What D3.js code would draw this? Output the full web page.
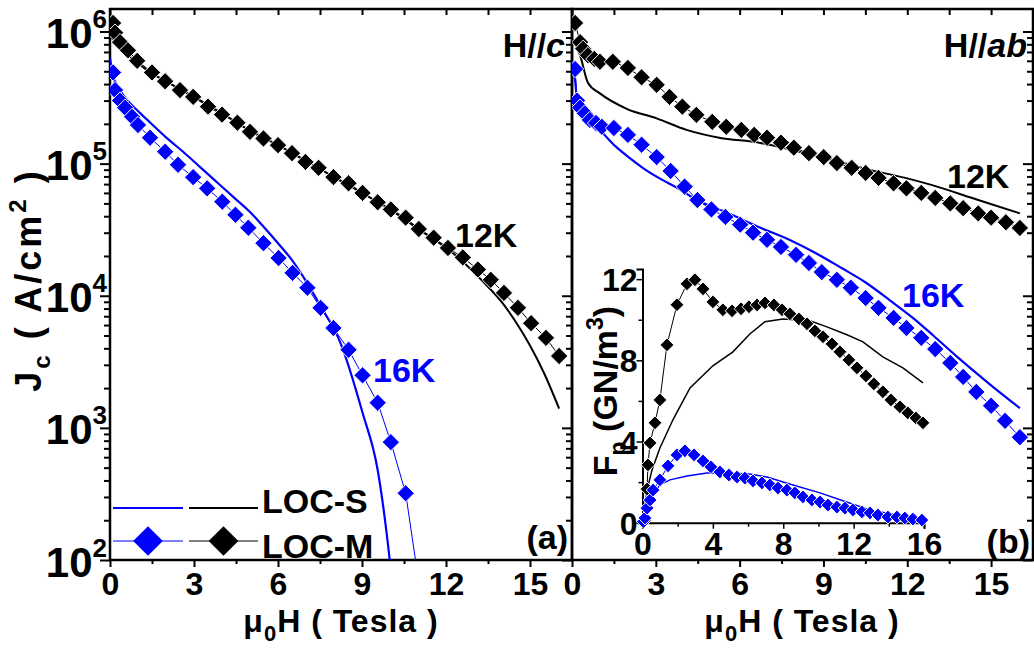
<!DOCTYPE html>
<html>
<head>
<meta charset="utf-8">
<script src="https://cdn.jsdelivr.net/npm/d3@7"></script>
<style>
  body { margin: 0; background: #fff; }
  text { font-family: "Liberation Sans", Arial, sans-serif; font-weight: bold; fill: #000; }
</style>
</head>
<body>
<svg id="chart" width="1034" height="648"></svg>
<script>
// ---- tick values ----
const hMajor = [0, 3, 6, 9, 12, 15];
const hMinor = [1.5, 4.5, 7.5, 10.5, 13.5];
const jcExponents = [2, 3, 4, 5, 6];
const fpMajor = [0, 4, 8, 12];
const fpMinor = [2, 6, 10];
const insetHMajor = [0, 4, 8, 12, 16];
const insetHMinor = [2, 6, 10, 14];

// ---- (a) H//c ----
const cM12H = [0.11, 0.18, 0.36, 0.64, 0.97, 1.5, 1.97, 2.5, 2.97, 3.5, 4.0, 4.55, 5.0, 5.48, 6.0, 6.5, 6.98, 7.45, 7.98, 8.52, 9.02, 9.56, 10.03, 10.56, 11.03, 11.56, 12.07, 12.6, 13.14, 13.6, 14.07, 14.57, 15.04, 15.57, 16.04];
const cM12Jc = [1.16e6, 9.8e5, 8.3e5, 7.2e5, 6.0e5, 4.9e5, 4.2e5, 3.6e5, 3.2e5, 2.7e5, 2.35e5, 2.04e5, 1.74e5, 1.55e5, 1.38e5, 1.2e5, 1.03e5, 9.3e4, 7.9e4, 7.1e4, 6.0e4, 5.1e4, 4.5e4, 3.9e4, 3.2e4, 2.75e4, 2.3e4, 1.95e4, 1.58e4, 1.32e4, 1.05e4, 8.1e3, 6.2e3, 4.8e3, 3.5e3];
const cS12H = [0, 0.2, 0.5, 1, 1.5, 2, 3, 4, 5, 6, 7, 8, 9, 10, 11, 12, 12.5, 13, 13.5, 14, 14.5, 15, 15.5, 16.04];
const cS12Jc = [9.3e5, 8.3e5, 7.1e5, 5.75e5, 4.8e5, 4.2e5, 3.2e5, 2.4e5, 1.78e5, 1.38e5, 1.05e5, 7.9e4, 6.0e4, 4.5e4, 3.2e4, 2.3e4, 1.9e4, 1.5e4, 1.17e4, 8.9e3, 6.3e3, 4.2e3, 2.6e3, 1.4e3];
const cM16H = [0.11, 0.18, 0.36, 0.54, 0.79, 1.0, 1.43, 1.97, 2.43, 2.97, 3.47, 4.01, 4.48, 4.94, 5.48, 6.02, 6.52, 7.05, 7.52, 7.98, 8.52, 9.02, 9.56, 10.03, 10.56, 11.05];
const cM16Jc = [4.9e5, 3.6e5, 3.0e5, 2.65e5, 2.26e5, 1.96e5, 1.57e5, 1.23e5, 9.8e4, 7.9e4, 6.5e4, 5.15e4, 4.1e4, 3.27e4, 2.5e4, 1.93e4, 1.49e4, 1.15e4, 8.1e3, 5.7e3, 3.9e3, 2.5e3, 1.55e3, 780, 320, 63];
const cS16H = [0, 0.1, 0.36, 1.0, 1.43, 2.0, 2.61, 3.2, 3.83, 4.4, 5.0, 5.5, 6.0, 6.5, 7.0, 7.5, 8.23, 9.02, 9.56, 9.99, 10.1];
const cS16Jc = [6.3e5, 4.7e5, 3.6e5, 2.5e5, 2.05e5, 1.58e5, 1.23e5, 9.5e4, 7.2e4, 5.6e4, 4.3e4, 3.3e4, 2.5e4, 1.86e4, 1.29e4, 8.5e3, 4.4e3, 1.3e3, 480, 100, 60];

// ---- (b) H//ab ----
const abM12H = [0.11, 0.29, 0.4, 0.57, 0.8, 1.0, 1.46, 2.0, 2.49, 3.03, 3.49, 3.95, 4.45, 5.02, 5.52, 6.06, 6.52, 6.98, 7.48, 7.94, 8.48, 9.01, 9.48, 10.01, 10.51, 10.97, 11.51, 11.97, 12.5, 13.0, 13.54, 14.0, 14.54, 15.0, 15.53, 16.03];
const abM12Jc = [1.16e6, 8.3e5, 7.4e5, 6.6e5, 6.2e5, 5.9e5, 5.9e5, 5.3e5, 4.5e5, 3.95e5, 3.2e5, 2.7e5, 2.34e5, 2.07e5, 1.9e5, 1.8e5, 1.65e5, 1.57e5, 1.44e5, 1.32e5, 1.2e5, 1.12e5, 1.01e5, 9.3e4, 8.5e4, 7.8e4, 7.1e4, 6.5e4, 6.0e4, 5.5e4, 5.0e4, 4.6e4, 4.2e4, 3.9e4, 3.6e4, 3.26e4];
const abS12H = [0, 0.29, 0.57, 1.0, 1.96, 3.03, 4.1, 5.27, 6.7, 7.87, 9.3, 10.62, 11.93, 12.86, 14.54, 16.03];
const abS12Jc = [8.9e5, 6.6e5, 4.1e5, 3.4e5, 2.6e5, 2.2e5, 1.8e5, 1.57e5, 1.44e5, 1.27e5, 1.07e5, 9.0e4, 7.8e4, 6.9e4, 5.3e4, 4.2e4];
const abM16H = [0.11, 0.18, 0.29, 0.46, 0.64, 0.86, 1.07, 1.5, 2.0, 2.49, 3.03, 3.53, 4.03, 4.49, 4.99, 5.49, 6.02, 6.48, 6.98, 7.48, 8.02, 8.48, 8.94, 9.48, 9.98, 10.51, 10.97, 11.51, 11.97, 12.5, 13.0, 13.54, 14.0, 14.47, 15.0, 15.5, 16.03];
const abM16Jc = [5.2e5, 3.0e5, 2.65e5, 2.4e5, 2.14e5, 2.03e5, 1.9e5, 1.86e5, 1.65e5, 1.39e5, 1.12e5, 8.8e4, 6.7e4, 5.3e4, 4.5e4, 3.95e4, 3.45e4, 3.0e4, 2.65e4, 2.34e4, 2.04e4, 1.77e4, 1.51e4, 1.32e4, 1.15e4, 9.6e3, 8.1e3, 6.8e3, 5.7e3, 4.8e3, 3.95e3, 3.1e3, 2.43e3, 1.87e3, 1.47e3, 1.13e3, 850];
const abS16H = [0, 0.11, 0.18, 0.29, 0.64, 1.0, 1.56, 2.07, 2.53, 3.2, 3.74, 4.5, 5.5, 6.7, 7.87, 8.73, 9.65, 10.51, 11.39, 12.2, 12.93, 13.82, 15.0, 16.03];
const abS16Jc = [5.9e5, 4.3e5, 3.0e5, 2.35e5, 2.04e5, 1.78e5, 1.35e5, 1.1e5, 9.3e4, 7.6e4, 6.6e4, 5.25e4, 4.3e4, 3.3e4, 2.6e4, 2.1e4, 1.62e4, 1.26e4, 9.2e3, 6.8e3, 5.0e3, 3.4e3, 2.1e3, 1.41e3];

// ---- inset Fp (GN/m3), H//ab ----
const fpM12H = [0.1, 0.26, 0.31, 0.43, 0.71, 0.99, 1.39, 1.96, 2.53, 2.98, 3.44, 4.0, 4.57, 5.09, 5.6, 6.05, 6.51, 6.96, 7.47, 7.93, 8.38, 8.89, 9.35, 9.8, 10.26, 10.77, 11.22, 11.73, 12.19, 12.7, 13.15, 13.66, 14.12, 14.63, 15.08, 15.54, 15.94];
const fpM12 = [0.1, 1.66, 2.85, 3.93, 4.92, 6.05, 8.76, 10.74, 11.77, 11.97, 11.52, 10.88, 10.49, 10.44, 10.54, 10.64, 10.73, 10.83, 10.73, 10.49, 10.29, 10.04, 9.8, 9.45, 9.16, 8.81, 8.42, 8.02, 7.63, 7.23, 6.84, 6.45, 6.05, 5.71, 5.41, 5.16, 4.92];
const fpS12H = [0, 0.26, 0.54, 0.99, 1.73, 2.7, 4.0, 5.14, 6.1, 6.96, 7.98, 9.52, 10.48, 11.62, 12.53, 13.66, 14.8, 15.94];
const fpS12 = [0, 1.61, 2.6, 3.68, 5.07, 6.64, 7.73, 8.42, 9.3, 9.9, 10.04, 9.95, 9.65, 9.26, 8.91, 8.17, 7.63, 6.89];
const fpM16H = [0.05, 0.14, 0.26, 0.43, 0.6, 0.99, 1.45, 1.96, 2.41, 2.93, 3.44, 3.89, 4.4, 4.91, 5.37, 5.82, 6.28, 6.79, 7.24, 7.7, 8.21, 8.66, 9.12, 9.63, 10.09, 10.54, 11.05, 11.51, 11.96, 12.47, 12.93, 13.38, 13.95, 14.46, 14.91, 15.37, 15.88];
const fpM16 = [0.05, 0.23, 0.72, 1.12, 1.61, 2.11, 2.8, 3.34, 3.54, 3.34, 3.04, 2.75, 2.5, 2.35, 2.25, 2.2, 2.06, 1.96, 1.86, 1.71, 1.61, 1.47, 1.27, 1.12, 1.02, 0.87, 0.77, 0.72, 0.63, 0.53, 0.48, 0.38, 0.28, 0.28, 0.23, 0.18, 0.13];
const fpS16H = [0, 0.14, 0.31, 0.6, 0.99, 1.56, 2.53, 3.66, 4.97, 6.1, 7.07, 8.55, 10.09, 11.39, 12.93, 14.46, 15.94];
const fpS16 = [0, 0.53, 0.97, 1.42, 1.86, 2.11, 2.3, 2.45, 2.45, 2.4, 2.25, 1.86, 1.47, 1.08, 0.63, 0.38, 0.23];

const BLUE = "#0000ff";
const svg = d3.select("#chart");
const plotTop = 9, plotBottom = 560;

const y = d3.scaleLog().domain([100, 1.48e6]).range([plotBottom, plotTop]);
const xA = d3.scaleLinear().domain([0, 16.5]).range([110, 572]);
const xB = d3.scaleLinear().domain([0, 16.5]).range([572, 1033]);
const xIn = d3.scaleLinear().domain([0, 16]).range([642.5, 924]);
const yIn = d3.scaleLinear().domain([0, 12.5]).range([522.7, 269]);

const jcMinor = [];
jcExponents.slice(0, -1).forEach(e => { for (let k = 2; k <= 9; k++) jcMinor.push(k * Math.pow(10, e)); });

function styleAxis(g) {
  g.select(".domain").remove();
  g.selectAll("line").attr("stroke", "#000").attr("stroke-width", 2);
}

// clip paths for both panels
const defs = svg.append("defs");
[["clipA", xA], ["clipB", xB]].forEach(([id, x]) => {
  defs.append("clipPath").attr("id", id).append("rect")
    .attr("x", x.range()[0]).attr("y", plotTop)
    .attr("width", x.range()[1] - x.range()[0]).attr("height", plotBottom - plotTop);
});

function panelAxes(x, withLeftLabels, rightTicks) {
  const g = svg.append("g");
  // bottom
  g.append("g").attr("transform", `translate(0,${plotBottom})`)
    .call(d3.axisBottom(x).tickValues(hMajor).tickSize(7).tickFormat(d3.format("d")))
    .call(styleAxis)
    .call(a => a.selectAll("text").attr("y", 35).attr("dy", null).style("font-size", "32px"));
  g.append("g").attr("transform", `translate(0,${plotBottom})`)
    .call(d3.axisBottom(x).tickValues(hMinor).tickSize(4).tickFormat(""))
    .call(styleAxis);
  // top (inward)
  g.append("g").attr("transform", `translate(0,${plotTop})`)
    .call(d3.axisTop(x).tickValues(hMajor.concat(hMinor)).tickSize(-6).tickFormat(""))
    .call(styleAxis);
  // left (outward)
  const x0 = x.range()[0];
  g.append("g").attr("transform", `translate(${x0},0)`)
    .call(d3.axisLeft(y).tickValues(jcExponents.map(e => Math.pow(10, e))).tickSize(10).tickFormat(""))
    .call(styleAxis);
  g.append("g").attr("transform", `translate(${x0},0)`)
    .call(d3.axisLeft(y).tickValues(jcMinor).tickSize(6).tickFormat(""))
    .call(styleAxis);
  if (rightTicks) {
    const x1 = x.range()[1];
    g.append("g").attr("transform", `translate(${x1},0)`)
      .call(d3.axisRight(y).tickValues(jcExponents.map(e => Math.pow(10, e))).tickSize(-10).tickFormat(""))
      .call(styleAxis);
    g.append("g").attr("transform", `translate(${x1},0)`)
      .call(d3.axisRight(y).tickValues(jcMinor).tickSize(-6).tickFormat(""))
      .call(styleAxis);
  }
  if (withLeftLabels) {
    jcExponents.forEach(e => {
      const t = g.append("text").attr("x", x0 - 3).attr("y", y(Math.pow(10, e)) + 16.5)
        .attr("text-anchor", "end").style("font-size", "42px");
      t.append("tspan").text("10");
      t.append("tspan").attr("dy", -20).style("font-size", "26px").text(e);
    });
  }
  // frame
  const [a0, a1] = x.range();
  g.append("rect").attr("x", a0).attr("y", plotTop).attr("width", a1 - a0).attr("height", plotBottom - plotTop)
    .attr("fill", "none").attr("stroke", "#000").attr("stroke-width", 2.5);
}

const diamond = size => d3.symbol(d3.symbolSquare, size);

function series(g, x, yS, hs, vs, color, opts) {
  const pts = hs.map((h, i) => [x(h), yS(vs[i])]);
  if (opts.line) {
    g.append("path").datum(pts)
      .attr("d", d3.line().curve(opts.curve || d3.curveLinear))
      .attr("fill", "none").attr("stroke", color).attr("stroke-width", opts.line);
  }
  if (opts.marker) {
    g.selectAll(null).data(pts).enter().append("path")
      .attr("d", diamond(opts.marker)())
      .attr("transform", d => `translate(${d[0]},${d[1]}) rotate(45)`)
      .attr("fill", color).attr("stroke", "#fff").attr("stroke-width", 0.9);
  }
}

panelAxes(xA, true, false);
panelAxes(xB, false, true);

const gA = svg.append("g").attr("clip-path", "url(#clipA)");
series(gA, xA, y, cS12H, cS12Jc, "#000", { line: 2, curve: d3.curveMonotoneX });
series(gA, xA, y, cS16H, cS16Jc, BLUE, { line: 2.2, curve: d3.curveMonotoneX });
series(gA, xA, y, cM12H, cM12Jc, "#000", { line: 1, marker: 150 });
series(gA, xA, y, cM16H, cM16Jc, BLUE, { line: 1, marker: 150 });

const gB = svg.append("g").attr("clip-path", "url(#clipB)");
series(gB, xB, y, abS12H, abS12Jc, "#000", { line: 2, curve: d3.curveMonotoneX });
series(gB, xB, y, abS16H, abS16Jc, BLUE, { line: 2.2, curve: d3.curveMonotoneX });
series(gB, xB, y, abM12H, abM12Jc, "#000", { line: 1, marker: 150 });
series(gB, xB, y, abM16H, abM16Jc, BLUE, { line: 1, marker: 150 });

// ---- inset ----
const gI = svg.append("g");
gI.append("g").attr("transform", `translate(0,${yIn.range()[0]})`)
  .call(d3.axisBottom(xIn).tickValues(insetHMajor).tickSize(6).tickFormat(d3.format("d")))
  .call(a => a.selectAll("text").attr("y", 32).attr("dy", null).style("font-size", "32px"))
  .call(a => a.selectAll("line").attr("stroke-width", 1.5))
  .call(a => a.select(".domain").attr("stroke-width", 2));
gI.append("g").attr("transform", `translate(0,${yIn.range()[0]})`)
  .call(d3.axisBottom(xIn).tickValues(insetHMinor).tickSize(4).tickFormat(""))
  .call(a => { a.select(".domain").remove(); a.selectAll("line").attr("stroke-width", 1.5); });
gI.append("g").attr("transform", `translate(${xIn.range()[0]},0)`)
  .call(d3.axisLeft(yIn).tickValues(fpMajor).tickSize(6).tickFormat(d3.format("d")))
  .call(a => a.selectAll("text").attr("x", -5).attr("dy", "0.36em").style("font-size", "32px"))
  .call(a => a.selectAll("line").attr("stroke-width", 1.5))
  .call(a => a.select(".domain").attr("stroke-width", 2));
gI.append("g").attr("transform", `translate(${xIn.range()[0]},0)`)
  .call(d3.axisLeft(yIn).tickValues(fpMinor).tickSize(4).tickFormat(""))
  .call(a => { a.select(".domain").remove(); a.selectAll("line").attr("stroke-width", 1.5); });

series(gI, xIn, yIn, fpS12H, fpS12, "#000", { line: 1.5 });
series(gI, xIn, yIn, fpS16H, fpS16, BLUE, { line: 1.5 });
series(gI, xIn, yIn, fpM12H, fpM12, "#000", { line: 1, marker: 95 });
series(gI, xIn, yIn, fpM16H, fpM16, BLUE, { line: 1, marker: 95 });

// ---- axis titles ----
function xTitle(cx) {
  const t = svg.append("text").attr("x", cx).attr("y", 632).attr("text-anchor", "middle")
    .style("font-size", "32px").style("letter-spacing", "1px").attr("xml:space", "preserve");
  t.append("tspan").text("\u03bc");
  t.append("tspan").attr("dy", 9).style("font-size", "22px").text("0");
  t.append("tspan").attr("dy", -9).text("H ( Tesla )");
}
xTitle(341);
xTitle(802);

const jt = svg.append("text").attr("transform", "translate(41,280) rotate(-90)")
  .attr("text-anchor", "middle").style("font-size", "36px").style("letter-spacing", "3px")
  .attr("xml:space", "preserve");
jt.append("tspan").text("J");
jt.append("tspan").attr("dy", 9).style("font-size", "24px").text("c");
jt.append("tspan").attr("dy", -9).text(" ( A/cm");
jt.append("tspan").attr("dy", -15).style("font-size", "24px").text("2");
jt.append("tspan").attr("dy", 15).text(" )");

const ft = svg.append("text").attr("transform", "translate(617,391) rotate(-90)")
  .attr("text-anchor", "middle").style("font-size", "34px").attr("xml:space", "preserve");
ft.append("tspan").text("F");
ft.append("tspan").attr("dy", 9).style("font-size", "23px").text("p");
ft.append("tspan").attr("dy", -9).text(" (GN/m");
ft.append("tspan").attr("dy", -14).style("font-size", "23px").text("3");
ft.append("tspan").attr("dy", 14).text(")");

// ---- annotations ----
function label(x, yy, txt, color, anchor) {
  return svg.append("text").attr("x", x).attr("y", yy).attr("text-anchor", anchor || "start")
    .style("font-size", "34px").style("fill", color || "#000").text(txt);
}
const hc = svg.append("text").attr("x", 565).attr("y", 57).attr("text-anchor", "end").style("font-size", "34px");
hc.append("tspan").text("H//");
hc.append("tspan").style("font-style", "italic").text("c");
const hab = svg.append("text").attr("x", 1027).attr("y", 57).attr("text-anchor", "end").style("font-size", "34px");
hab.append("tspan").text("H//");
hab.append("tspan").style("font-style", "italic").text("ab");
label(455, 247, "12K");
label(947, 188, "12K");
label(373, 382, "16K", BLUE);
label(902, 307, "16K", BLUE);
label(568, 549, "(a)", "#000", "end");
label(1030, 553, "(b)", "#000", "end");

// ---- legend ----
const lg = svg.append("g");
[[113, 183, BLUE], [189, 258, "#000"]].forEach(([a, b, c]) => {
  lg.append("line").attr("x1", a).attr("x2", b).attr("y1", 508).attr("y2", 508).attr("stroke", c).attr("stroke-width", 2);
  lg.append("line").attr("x1", a).attr("x2", b).attr("y1", 541).attr("y2", 541).attr("stroke", c).attr("stroke-width", 1);
  lg.append("path").attr("d", diamond(441)()).attr("transform", `translate(${(a + b) / 2},541) rotate(45)`).attr("fill", c);
});
label(262, 513, "LOC-S");
label(262, 558, "LOC-M");
</script>
</body>
</html>
